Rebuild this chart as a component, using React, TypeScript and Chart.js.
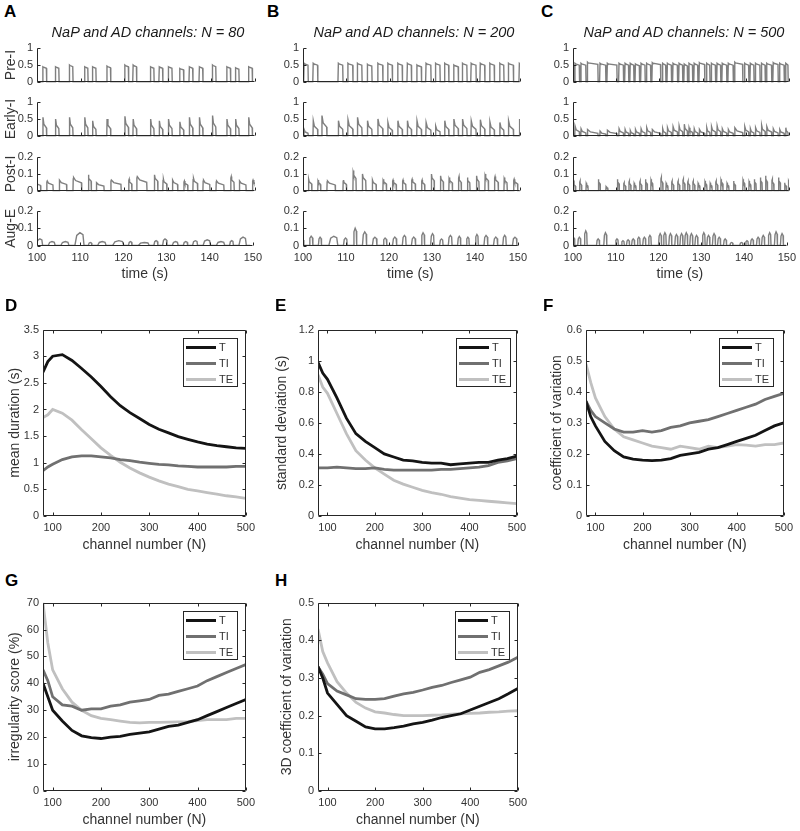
import React, { useEffect, useRef } from "react";
import { Chart, registerables } from "chart.js";
Chart.register(...registerables);

const FONT = "'Liberation Sans', Arial, Helvetica, sans-serif";
const AXIS = "#262626";
const TEXT = "#333333";
const TRACE = "#7f7f7f";
const COL_T = "#141414";
const COL_TI = "#707070";
const COL_TE = "#c0c0c0";

// ---------------- Panels D-H : statistics vs channel number ----------------
const channelN = [80, 90, 100, 120, 140, 160, 180, 200, 220, 240, 260, 280, 300, 320, 340, 360, 380, 400, 420, 440, 460, 480, 500];
const nTicks = [100, 200, 300, 400, 500];

const meanT = [2.7, 2.9, 3.0, 3.03, 2.92, 2.77, 2.61, 2.43, 2.24, 2.07, 1.94, 1.83, 1.72, 1.63, 1.56, 1.49, 1.44, 1.39, 1.35, 1.32, 1.3, 1.28, 1.27];
const meanTI = [0.85, 0.92, 0.97, 1.06, 1.11, 1.13, 1.13, 1.11, 1.09, 1.06, 1.04, 1.01, 0.99, 0.97, 0.96, 0.94, 0.93, 0.92, 0.92, 0.92, 0.92, 0.93, 0.93];
const meanTE = [1.85, 1.9, 2.0, 1.93, 1.8, 1.62, 1.45, 1.28, 1.14, 1.01, 0.9, 0.81, 0.73, 0.66, 0.6, 0.55, 0.5, 0.47, 0.44, 0.41, 0.38, 0.36, 0.33];
const durTicks = [0, 0.5, 1, 1.5, 2, 2.5, 3, 3.5];

const sdT = [0.99, 0.92, 0.88, 0.76, 0.63, 0.53, 0.48, 0.44, 0.4, 0.38, 0.36, 0.355, 0.345, 0.34, 0.34, 0.33, 0.335, 0.34, 0.345, 0.345, 0.36, 0.37, 0.385];
const sdTI = [0.31, 0.31, 0.31, 0.315, 0.31, 0.305, 0.305, 0.31, 0.3, 0.295, 0.295, 0.295, 0.295, 0.295, 0.3, 0.3, 0.305, 0.31, 0.315, 0.325, 0.345, 0.355, 0.37];
const sdTE = [0.91, 0.83, 0.79, 0.66, 0.53, 0.42, 0.36, 0.31, 0.27, 0.23, 0.205, 0.185, 0.165, 0.15, 0.14, 0.125, 0.115, 0.105, 0.1, 0.095, 0.09, 0.085, 0.08];
const sdTicks = [0, 0.2, 0.4, 0.6, 0.8, 1, 1.2];

const cvT = [0.37, 0.32, 0.29, 0.24, 0.21, 0.19, 0.183, 0.18, 0.178, 0.18, 0.185, 0.195, 0.2, 0.205, 0.215, 0.22, 0.23, 0.24, 0.25, 0.26, 0.275, 0.29, 0.3];
const cvTI = [0.37, 0.34, 0.32, 0.3, 0.28, 0.27, 0.27, 0.275, 0.27, 0.275, 0.285, 0.29, 0.3, 0.305, 0.31, 0.32, 0.33, 0.34, 0.35, 0.36, 0.375, 0.385, 0.395];
const cvTE = [0.49, 0.43, 0.38, 0.32, 0.28, 0.255, 0.245, 0.235, 0.225, 0.22, 0.215, 0.225, 0.22, 0.215, 0.225, 0.22, 0.225, 0.23, 0.228, 0.225, 0.23, 0.23, 0.235];
const cvTicks = [0, 0.1, 0.2, 0.3, 0.4, 0.5, 0.6];

const irrT = [40, 35, 30, 26, 22.5, 20.5, 19.8, 19.5, 20, 20.3, 21, 21.5, 22, 23, 24, 24.5, 25.5, 26.5, 28, 29.5, 31, 32.5, 34];
const irrTI = [45, 41, 35, 32, 31.5, 30, 30.5, 30.5, 31.5, 32, 33, 33.5, 34, 35.5, 36, 37, 38, 39, 41, 42.5, 44, 45.5, 47];
const irrTE = [70, 55, 45, 38, 33, 30, 28, 27, 26.5, 26, 25.5, 25.3, 25.5, 25.5, 25.6, 25.7, 25.8, 26.2, 26.5, 26.5, 26.5, 27, 27];
const irrTicks = [0, 10, 20, 30, 40, 50, 60, 70];

const cv3T = [0.33, 0.3, 0.26, 0.23, 0.2, 0.185, 0.17, 0.165, 0.165, 0.168, 0.172, 0.178, 0.182, 0.188, 0.195, 0.2, 0.205, 0.215, 0.225, 0.235, 0.245, 0.258, 0.272];
const cv3TI = [0.33, 0.31, 0.285, 0.265, 0.255, 0.245, 0.243, 0.243, 0.245, 0.252, 0.258, 0.262, 0.268, 0.275, 0.28, 0.288, 0.295, 0.302, 0.315, 0.322, 0.332, 0.342, 0.355];
const cv3TE = [0.43, 0.37, 0.34, 0.29, 0.26, 0.235, 0.22, 0.21, 0.207, 0.203, 0.2, 0.2, 0.2, 0.201, 0.202, 0.204, 0.205, 0.206, 0.207, 0.209, 0.21, 0.212, 0.213];
const cv3Ticks = [0, 0.1, 0.2, 0.3, 0.4, 0.5];

// ---------------- Panels A-C : activity traces ----------------
const timeTicks = [100, 110, 120, 130, 140, 150];
const inspTicks = [0, 0.5, 1];
const expTicks = [0, 0.1, 0.2];
const rowNames = ["Pre-I", "Early-I", "Post-I", "Aug-E"];
const panelTitles = ["NaP and AD channels: N = 80", "NaP and AD channels: N = 200", "NaP and AD channels: N = 500"];

// N = 80 : burst onsets (s), inspiratory durations (s), peak amplitudes per population
const onA = [98.6, 101.3, 104.2, 107.4, 110.9, 112.7, 116.0, 120.1, 122.0, 126.0, 128.0, 130.1, 132.7, 134.9, 137.2, 140.2, 143.5, 145.5, 148.5];
const tiA = [0.9, 0.9, 0.85, 0.85, 0.8, 0.85, 0.9, 0.9, 0.85, 0.85, 0.85, 0.9, 0.95, 0.85, 0.85, 0.85, 0.9, 0.85, 0.9];
const preA = [0.45, 0.45, 0.45, 0.5, 0.45, 0.45, 0.47, 0.5, 0.5, 0.45, 0.45, 0.45, 0.4, 0.45, 0.45, 0.5, 0.45, 0.42, 0.45];
const earlyA = [0.5, 0.55, 0.5, 0.55, 0.55, 0.45, 0.5, 0.58, 0.5, 0.5, 0.45, 0.5, 0.42, 0.55, 0.55, 0.6, 0.5, 0.5, 0.55];
const postA = [0.055, 0.06, 0.065, 0.08, 0.095, 0.05, 0.065, 0.07, 0.085, 0.095, 0.07, 0.065, 0.06, 0.075, 0.065, 0.06, 0.085, 0.06, 0.065];
const augA = [0.03, 0.04, 0.025, 0.025, 0.075, 0.02, 0.025, 0.03, 0.025, 0.02, 0.03, 0.04, 0.025, 0.025, 0.03, 0.035, 0.025, 0.03, 0.05];

// N = 200
const onB = [98.0, 100.2, 102.3, 104.3, 108.1, 110.3, 112.5, 114.8, 117.2, 119.5, 121.8, 124.0, 126.2, 128.3, 130.5, 132.6, 134.7, 136.7, 138.7, 140.8, 143.0, 145.3, 147.3, 149.8];
const tiB = [1.1, 1.0, 1.1, 1.2, 1.1, 1.2, 1.1, 1.1, 1.2, 1.1, 1.1, 1.0, 1.1, 1.2, 1.1, 1.0, 1.1, 1.1, 1.2, 1.1, 1.1, 1.0, 1.2, 0.5];
const preB = [0.55, 0.55, 0.55, 0.01, 0.55, 0.55, 0.55, 0.52, 0.55, 0.55, 0.55, 0.55, 0.5, 0.55, 0.55, 0.55, 0.5, 0.55, 0.55, 0.55, 0.55, 0.55, 0.55, 0.55];
const earlyB = [0.3, 0.2, 0.45, 0.6, 0.45, 0.48, 0.55, 0.45, 0.5, 0.4, 0.45, 0.45, 0.45, 0.4, 0.3, 0.45, 0.5, 0.5, 0.45, 0.48, 0.42, 0.4, 0.45, 0.5];
const postB = [0.1, 0.07, 0.065, 0.06, 0.065, 0.12, 0.1, 0.065, 0.07, 0.065, 0.065, 0.07, 0.065, 0.1, 0.09, 0.08, 0.085, 0.08, 0.09, 0.1, 0.085, 0.08, 0.07, 0.06];
const augB = [0.03, 0.04, 0.055, 0.05, 0.055, 0.045, 0.1, 0.08, 0.05, 0.045, 0.05, 0.06, 0.05, 0.075, 0.07, 0.04, 0.06, 0.055, 0.05, 0.065, 0.06, 0.05, 0.06, 0.05];

// N = 500
const onC = [99.0, 100.4, 101.8, 103.3, 106.2, 107.9, 110.6, 112.0, 113.2, 114.4, 115.7, 117.0, 118.3, 120.7, 121.8, 123.1, 124.5, 125.7, 126.8, 128.0, 129.2, 130.9, 132.0, 133.3, 134.5, 135.9, 137.4, 139.7, 141.0, 142.2, 143.6, 144.8, 146.3, 147.8, 149.2];
const tiC = [1.1, 1.1, 1.2, 2.5, 1.4, 2.3, 1.1, 0.9, 0.9, 1.0, 1.0, 1.0, 2.0, 0.8, 1.0, 1.1, 0.9, 0.8, 0.9, 0.9, 1.3, 0.8, 1.0, 0.9, 1.1, 1.2, 1.9, 1.0, 0.9, 1.1, 0.9, 1.2, 1.2, 1.1, 0.6];
const preC = [0.55, 0.55, 0.55, 0.58, 0.55, 0.55, 0.55, 0.55, 0.55, 0.53, 0.55, 0.55, 0.57, 0.55, 0.55, 0.55, 0.55, 0.53, 0.55, 0.55, 0.57, 0.55, 0.55, 0.55, 0.55, 0.55, 0.58, 0.55, 0.55, 0.55, 0.55, 0.55, 0.57, 0.55, 0.55];
const earlyC = [0.2, 0.3, 0.22, 0.2, 0.15, 0.18, 0.22, 0.2, 0.17, 0.2, 0.22, 0.25, 0.2, 0.22, 0.25, 0.28, 0.3, 0.35, 0.25, 0.22, 0.2, 0.25, 0.28, 0.3, 0.22, 0.2, 0.25, 0.28, 0.22, 0.25, 0.32, 0.28, 0.22, 0.2, 0.25];
const postC = [0.05, 0.06, 0.05, 0.07, 0.03, 0.07, 0.05, 0.06, 0.05, 0.06, 0.07, 0.07, 0.08, 0.05, 0.06, 0.06, 0.07, 0.06, 0.06, 0.05, 0.06, 0.05, 0.06, 0.07, 0.05, 0.06, 0.07, 0.06, 0.07, 0.08, 0.09, 0.07, 0.08, 0.05, 0.06];
const augC = [0.03, 0.05, 0.05, 0.085, 0.04, 0.075, 0.04, 0.03, 0.035, 0.04, 0.05, 0.05, 0.06, 0.07, 0.075, 0.07, 0.065, 0.07, 0.075, 0.07, 0.06, 0.075, 0.06, 0.07, 0.05, 0.04, 0.02, 0.02, 0.03, 0.04, 0.05, 0.06, 0.075, 0.08, 0.07];

// ---------------- trace table built from burst lists ----------------
type Pt = { x: number; y: number };
function buildTrace(kind: string, on: number[], ti: number[], amp: number[]): Pt[] {
  const pts: Pt[] = [];
  for (let i = 0; i < on.length; i++) {
    const s = on[i];
    const e = on[i] + ti[i];
    const next = i + 1 < on.length ? on[i + 1] : e + 1.5;
    const te = next - e;
    const a = amp[i];
    if (kind === "pre") {
      pts.push({ x: s - 0.05, y: 0.01 }, { x: s + 0.05, y: a }, { x: s + 0.2, y: a * 0.97 }, { x: e - 0.05, y: a * 0.9 }, { x: e + 0.02, y: 0.01 });
    } else if (kind === "early") {
      pts.push({ x: s, y: 0.01 }, { x: s + 0.07, y: a }, { x: s + 0.3 * ti[i], y: a * 0.64 }, { x: e - 0.05, y: a * 0.45 }, { x: e + 0.02, y: 0.01 });
    } else if (kind === "post") {
      const stop = e + Math.max(0.75 * te, 0.5);
      pts.push({ x: e, y: 0.003 }, { x: e + 0.06, y: a * 0.9 }, { x: e + 0.15, y: a }, { x: e + 0.3 * (stop - e), y: a * 0.78 }, { x: stop - 0.05, y: a * 0.62 }, { x: stop + 0.02, y: 0.003 });
    } else if (kind === "aug") {
      const prevEnd = i > 0 ? on[i - 1] + ti[i - 1] : s - 1.2;
      const st = Math.min(prevEnd + 0.2 * (s - prevEnd), s - 0.7);
      const span = s - st;
      pts.push({ x: st, y: 0.003 }, { x: st + 0.2 * span, y: a * 0.8 }, { x: st + 0.55 * span, y: a }, { x: s - 0.12 * span, y: a * 0.85 }, { x: s, y: 0.003 });
      if (i === on.length - 1) {
        pts.push({ x: e, y: 0.003 });
      }
    }
  }
  return pts;
}

// ---------------- drawing plugins ----------------
const axesPlugin = {
  id: "matlabAxes",
  afterDatasetsDraw(chart: any, _args: any, opts: any) {
    const { ctx, chartArea: a } = chart;
    const xs = chart.scales.x;
    const ys = chart.scales.y;
    const L = Math.round(a.left) + 0.5;
    const R = Math.round(a.right) - 0.5;
    const T = Math.round(a.top) + 0.5;
    const B = Math.round(a.bottom) - 0.5;
    const tl = 3;
    ctx.save();
    ctx.strokeStyle = AXIS;
    ctx.lineWidth = 1;
    ctx.beginPath();
    ctx.moveTo(L, T);
    ctx.lineTo(L, B);
    ctx.lineTo(R, B);
    if (opts.box) {
      ctx.lineTo(R, T);
      ctx.lineTo(L, T);
    }
    ctx.stroke();
    ctx.beginPath();
    ys.ticks.forEach((t: any) => {
      const y = Math.round(ys.getPixelForValue(t.value)) + 0.5;
      ctx.moveTo(L, y);
      ctx.lineTo(L + tl, y);
      if (opts.box) {
        ctx.moveTo(R, y);
        ctx.lineTo(R - tl, y);
      }
    });
    xs.ticks.forEach((t: any) => {
      const x = Math.round(xs.getPixelForValue(t.value)) + 0.5;
      ctx.moveTo(x, B);
      ctx.lineTo(x, B - tl);
      if (opts.box) {
        ctx.moveTo(x, T);
        ctx.lineTo(x, T + tl);
      }
    });
    ctx.stroke();
    ctx.restore();
  },
};

const legendPlugin = {
  id: "boxLegend",
  afterDraw(chart: any, _args: any, opts: any) {
    if (!opts || !opts.show) return;
    const { ctx, chartArea: a } = chart;
    const w = 54;
    const h = 48;
    const x0 = Math.round(a.right - opts.inset - w);
    const y0 = Math.round(a.top + 8);
    ctx.save();
    ctx.fillStyle = "#ffffff";
    ctx.fillRect(x0, y0, w, h);
    ctx.strokeStyle = AXIS;
    ctx.lineWidth = 1;
    ctx.strokeRect(x0 + 0.5, y0 + 0.5, w, h);
    ctx.font = `11px ${FONT}`;
    ctx.textBaseline = "middle";
    ctx.textAlign = "left";
    chart.data.datasets.forEach((ds: any, i: number) => {
      const y = y0 + 9.5 + i * 16;
      ctx.strokeStyle = ds.borderColor;
      ctx.lineWidth = 3;
      ctx.beginPath();
      ctx.moveTo(x0 + 3, y);
      ctx.lineTo(x0 + 33, y);
      ctx.stroke();
      ctx.fillStyle = TEXT;
      ctx.fillText(ds.label, x0 + 36, y + 0.5);
    });
    ctx.restore();
  },
};

// ---------------- chart config helper ----------------
type Frame = { l: number; t: number; r: number; b: number; ly: number; lx: number; padT: number; padR: number };
function rectOf(f: Frame) {
  return { left: f.l - f.ly, top: f.t - f.padT, width: f.r - f.l + f.ly + f.padR, height: f.b - f.t + f.padT + f.lx };
}

function makeConfig(o: any) {
  const f: Frame = o.frame;
  return {
    type: "line",
    data: { datasets: o.datasets },
    options: {
      responsive: false,
      maintainAspectRatio: false,
      animation: false,
      devicePixelRatio: 1,
      events: [],
      layout: { padding: { left: 0, top: f.padT, right: f.padR, bottom: 0 } },
      plugins: {
        legend: { display: false },
        tooltip: { enabled: false },
        title: { display: false },
        matlabAxes: { box: o.box },
        boxLegend: { show: !!o.legend, inset: o.legendInset || 9 },
      },
      scales: {
        x: {
          type: "linear",
          position: "bottom",
          min: o.xMin,
          max: o.xMax,
          afterBuildTicks: (s: any) => {
            s.ticks = o.xTicks.map((v: number) => ({ value: v }));
          },
          afterFit: (s: any) => {
            s.height = f.lx;
          },
          grid: { display: false, drawTicks: false },
          border: { display: false },
          ticks: {
            display: !!o.showXLabels,
            padding: 5,
            color: TEXT,
            font: { family: FONT, size: 11 },
            maxRotation: 0,
            autoSkip: false,
            callback: (v: any) => String(v),
          },
          title: { display: !!o.xTitle, text: o.xTitle || "", color: TEXT, font: { family: FONT, size: 14 }, padding: 0 },
        },
        y: {
          type: "linear",
          position: "left",
          min: o.yMin,
          max: o.yMax,
          afterBuildTicks: (s: any) => {
            s.ticks = o.yTicks.map((v: number) => ({ value: v }));
          },
          afterFit: (s: any) => {
            s.width = f.ly;
          },
          grid: { display: false, drawTicks: false },
          border: { display: false },
          ticks: {
            padding: 4,
            color: TEXT,
            font: { family: FONT, size: 11 },
            autoSkip: false,
            callback: (v: any) => String(v),
          },
          title: { display: !!o.yTitle, text: o.yTitle || "", color: TEXT, font: { family: FONT, size: 14 }, padding: 0 },
        },
      },
    },
    plugins: [axesPlugin, legendPlugin],
  };
}

function ChartBox({ config }: { config: any }) {
  const ref = useRef<HTMLCanvasElement>(null);
  const r = rectOf(config.__frame);
  useEffect(() => {
    const { __frame, ...cfg } = config;
    const chart = new Chart(ref.current as HTMLCanvasElement, cfg as any);
    return () => chart.destroy();
  }, []);
  return (
    <canvas
      ref={ref}
      width={r.width}
      height={r.height}
      style={{ position: "absolute", left: r.left, top: r.top, width: r.width, height: r.height }}
    />
  );
}

// ---------------- build all charts ----------------
function series(label: string, color: string, values: number[]) {
  return {
    label,
    data: channelN.map((n, i) => ({ x: n, y: values[i] })),
    borderColor: color,
    backgroundColor: color,
    borderWidth: 2.8,
    pointRadius: 0,
    tension: 0,
    fill: false,
  };
}

const statPanels = [
  { frame: { l: 43, t: 327, r: 248, b: 516, ly: 36, lx: 38, padT: 8, padR: 12 }, title: "mean duration (s)", yMax: 3.5, yTicks: durTicks, s: [meanT, meanTI, meanTE], inset: 9 },
  { frame: { l: 318, t: 327, r: 519, b: 516, ly: 44, lx: 38, padT: 8, padR: 12 }, title: "standard deviation (s)", yMax: 1.2, yTicks: sdTicks, s: [sdT, sdTI, sdTE], inset: 7 },
  { frame: { l: 586, t: 327, r: 786, b: 516, ly: 37, lx: 38, padT: 8, padR: 12 }, title: "coefficient of variation", yMax: 0.6, yTicks: cvTicks, s: [cvT, cvTI, cvTE], inset: 11 },
  { frame: { l: 43, t: 600, r: 248, b: 791, ly: 36, lx: 38, padT: 8, padR: 12 }, title: "irregularity score (%)", yMax: 70, yTicks: irrTicks, s: [irrT, irrTI, irrTE], inset: 9 },
  { frame: { l: 318, t: 600, r: 520, b: 791, ly: 39, lx: 38, padT: 8, padR: 12 }, title: "3D coefficient of variation", yMax: 0.5, yTicks: cv3Ticks, s: [cv3T, cv3TI, cv3TE], inset: 9 },
];

const traceCols = [
  { l: 37, r: 255, ly: 34, on: onA, ti: tiA, amps: [preA, earlyA, postA, augA] },
  { l: 303, r: 520, ly: 30, on: onB, ti: tiB, amps: [preB, earlyB, postB, augB] },
  { l: 573, r: 789, ly: 30, on: onC, ti: tiC, amps: [preC, earlyC, postC, augC] },
];
const traceRows = [
  { t: 45, b: 83, kind: "pre", yMax: 1, ticks: inspTicks },
  { t: 99, b: 137, kind: "early", yMax: 1, ticks: inspTicks },
  { t: 154, b: 192, kind: "post", yMax: 0.2, ticks: expTicks },
  { t: 208, b: 246, kind: "aug", yMax: 0.2, ticks: expTicks },
];

function allConfigs() {
  const list: any[] = [];
  traceCols.forEach((c, ci) => {
    traceRows.forEach((row, ri) => {
      const last = ri === traceRows.length - 1;
      const frame = { l: c.l, t: row.t, r: c.r, b: row.b, ly: c.ly, lx: last ? 37 : 10, padT: 8, padR: 12 };
      const cfg: any = makeConfig({
        frame,
        box: false,
        datasets: [
          {
            label: rowNames[ri],
            data: buildTrace(row.kind, c.on, c.ti, c.amps[ri]),
            borderColor: TRACE,
            borderWidth: 1.4,
            pointRadius: 0,
            tension: 0,
            fill: false,
          },
        ],
        xMin: 100,
        xMax: 150,
        xTicks: timeTicks,
        yMin: 0,
        yMax: row.yMax,
        yTicks: row.ticks,
        showXLabels: last,
        xTitle: last ? "time (s)" : "",
        yTitle: ci === 0 ? rowNames[ri] : "",
      });
      cfg.__frame = frame;
      list.push(cfg);
    });
  });
  statPanels.forEach((p) => {
    const cfg: any = makeConfig({
      frame: p.frame,
      box: true,
      legend: true,
      legendInset: p.inset,
      datasets: [series("T", COL_T, p.s[0]), series("TI", COL_TI, p.s[1]), series("TE", COL_TE, p.s[2])],
      xMin: 80,
      xMax: 500,
      xTicks: nTicks,
      yMin: 0,
      yMax: p.yMax,
      yTicks: p.yTicks,
      showXLabels: true,
      xTitle: "channel number (N)",
      yTitle: p.title,
    });
    cfg.__frame = p.frame;
    list.push(cfg);
  });
  return list;
}

const letters = [
  { t: "A", x: 4, y: 12 },
  { t: "B", x: 267, y: 12 },
  { t: "C", x: 541, y: 12 },
  { t: "D", x: 5, y: 306 },
  { t: "E", x: 275, y: 306 },
  { t: "F", x: 543, y: 306 },
  { t: "G", x: 5, y: 581 },
  { t: "H", x: 275, y: 581 },
];
const titleCenters = [148, 414, 684];

export default function App() {
  const configs = allConfigs();
  return (
    <div style={{ position: "absolute", left: 0, top: 0, width: 800, height: 831, overflow: "hidden", background: "#ffffff", fontFamily: FONT }}>
      {configs.map((cfg, i) => (
        <ChartBox key={i} config={cfg} />
      ))}
      {letters.map((l) => (
        <div key={l.t} style={{ position: "absolute", left: l.x, top: l.y - 11, height: 22, lineHeight: "22px", fontSize: 17, fontWeight: "bold", color: "#000" }}>
          {l.t}
        </div>
      ))}
      {panelTitles.map((t, i) => (
        <div key={t} style={{ position: "absolute", left: titleCenters[i] - 150, width: 300, top: 32 - 10, height: 20, lineHeight: "20px", textAlign: "center", fontSize: 14.5, fontStyle: "italic", color: "#1a1a1a", whiteSpace: "nowrap" }}>
          {t}
        </div>
      ))}
    </div>
  );
}
